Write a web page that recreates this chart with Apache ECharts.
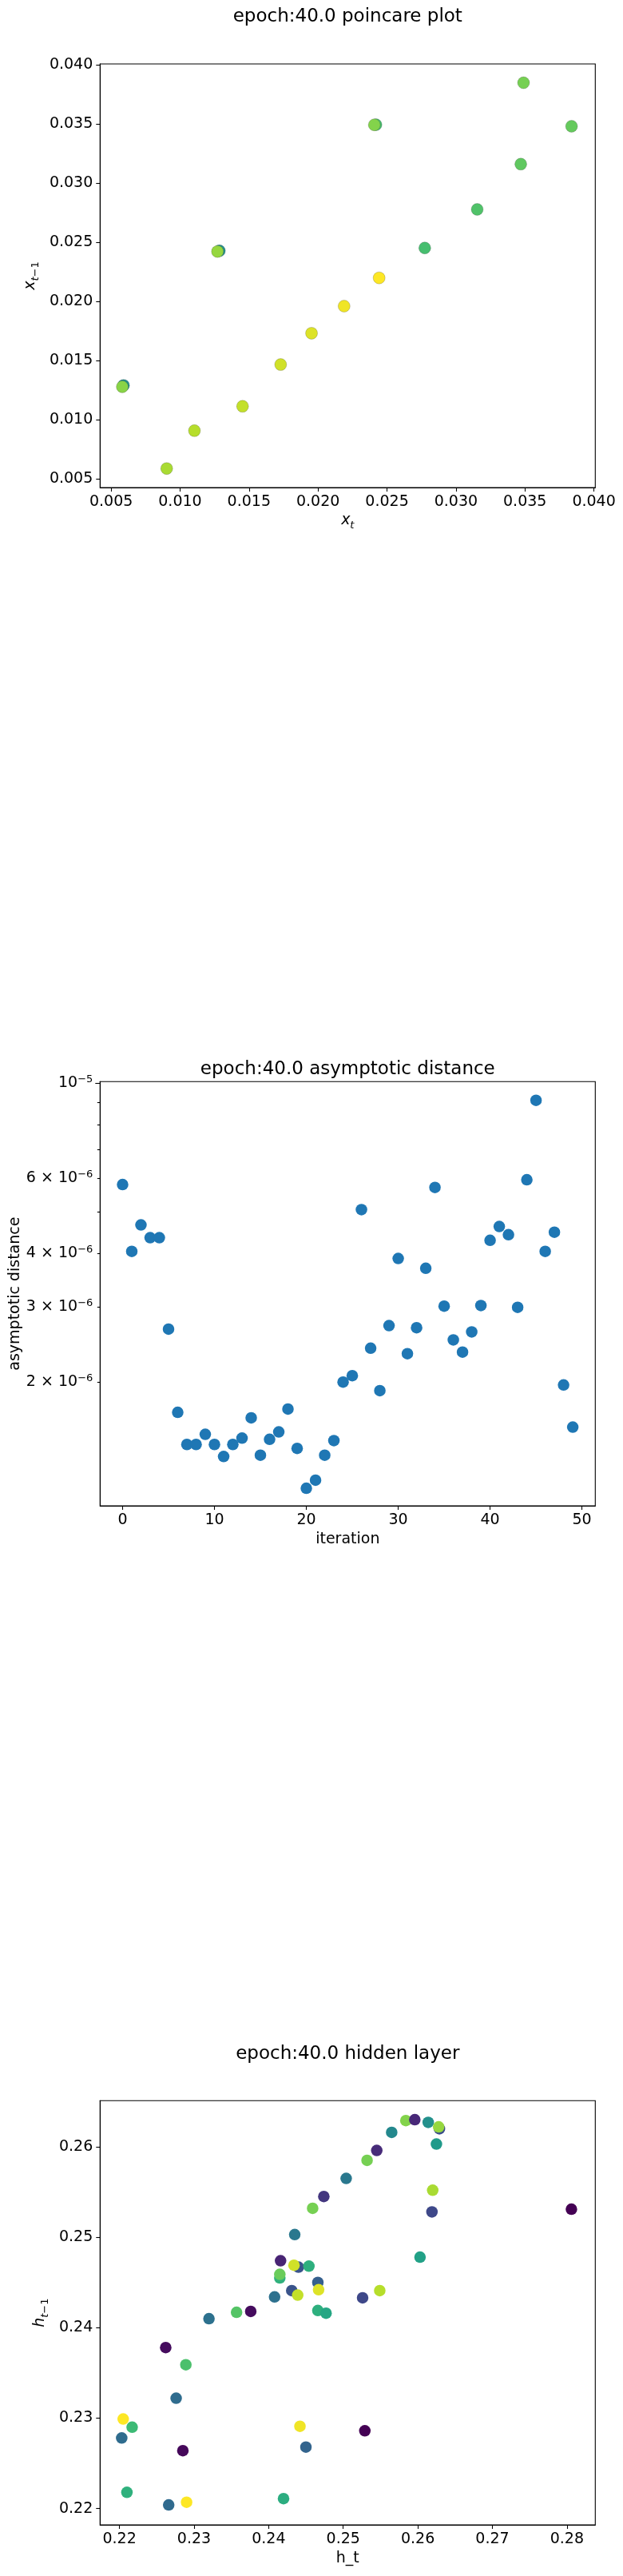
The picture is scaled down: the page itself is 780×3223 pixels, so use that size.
<!DOCTYPE html>
<html>
<head>
<meta charset="utf-8">
<title>epoch 40 plots</title>
<script src="https://cdn.jsdelivr.net/npm/echarts@6/dist/echarts.min.js"></script>
<style>
  html, body { margin: 0; padding: 0; background: #fff; }
  #main { width: 780px; height: 3223px; }
</style>
</head>
<body>
<div id="main"></div>
<script>
// --- poincare plot: x_t against x_{t-1}, colour = viridis position (0..1)
var poincareX = [0.00590, 0.01285, 0.02420, 0.00581, 0.00903, 0.01104, 0.01453, 0.01729, 0.01953, 0.02189, 0.02443, 0.02774, 0.03154, 0.03470, 0.03490, 0.03838, 0.02408, 0.01271];
var poincareY = [0.01290, 0.02428, 0.03494, 0.01278, 0.00587, 0.00907, 0.01113, 0.01466, 0.01731, 0.01960, 0.02199, 0.02452, 0.02778, 0.03161, 0.03849, 0.03481, 0.03493, 0.02422];
var poincareC = [0.50, 0.50, 0.70, 0.82, 0.87, 0.89, 0.91, 0.93, 0.95, 0.98, 1.00, 0.70, 0.72, 0.75, 0.79, 0.76, 0.81, 0.84];

// --- asymptotic distance per iteration
var iterations = [0, 1, 2, 3, 4, 5, 6, 7, 8, 9, 10, 11, 12, 13, 14, 15, 16, 17, 18, 19, 20, 21, 22, 23, 24,
                  25, 26, 27, 28, 29, 30, 31, 32, 33, 34, 35, 36, 37, 38, 39, 40, 41, 42, 43, 44, 45, 46, 47, 48, 49];
var asymDist = [5.79e-6, 4.04e-6, 4.66e-6, 4.35e-6, 4.35e-6, 2.66e-6, 1.70e-6, 1.43e-6, 1.43e-6, 1.51e-6,
                1.43e-6, 1.34e-6, 1.43e-6, 1.48e-6, 1.65e-6, 1.35e-6, 1.47e-6, 1.53e-6, 1.73e-6, 1.40e-6,
                1.13e-6, 1.18e-6, 1.35e-6, 1.46e-6, 2.00e-6, 2.07e-6, 5.06e-6, 2.40e-6, 1.91e-6, 2.71e-6,
                3.89e-6, 2.33e-6, 2.68e-6, 3.69e-6, 5.70e-6, 3.01e-6, 2.51e-6, 2.35e-6, 2.62e-6, 3.02e-6,
                4.29e-6, 4.62e-6, 4.42e-6, 2.99e-6, 5.94e-6, 9.11e-6, 4.04e-6, 4.48e-6, 1.97e-6, 1.57e-6];

// --- hidden layer: h_t against h_{t-1}, colour = viridis position (0..1)
var hiddenX = [0.2584, 0.2596, 0.2614, 0.2629, 0.2628, 0.2565, 0.2625, 0.2545, 0.2532, 0.2504,
               0.2620, 0.2474, 0.2459, 0.2619, 0.2806, 0.2435, 0.2603, 0.2416, 0.2440, 0.2434,
               0.2454, 0.2415, 0.2415, 0.2466, 0.2431, 0.2467, 0.2439, 0.2408, 0.2526, 0.2549,
               0.2357, 0.2376, 0.2320, 0.2466, 0.2477, 0.2262, 0.2289, 0.2276, 0.2205, 0.2217,
               0.2442, 0.2529, 0.2203, 0.2285, 0.2450, 0.2210, 0.2266, 0.2290, 0.2420];
var hiddenY = [0.2629, 0.2630, 0.2627, 0.2620, 0.2622, 0.2616, 0.2603, 0.2596, 0.2585, 0.2565,
               0.2552, 0.2545, 0.2532, 0.2528, 0.2531, 0.2503, 0.2478, 0.2474, 0.2467, 0.2469,
               0.2468, 0.2455, 0.2459, 0.2450, 0.2441, 0.2442, 0.2436, 0.2434, 0.2433, 0.2441,
               0.2417, 0.2418, 0.2410, 0.2419, 0.2416, 0.2378, 0.2359, 0.2322, 0.2299, 0.2290,
               0.2291, 0.2286, 0.2278, 0.2264, 0.2268, 0.2218, 0.2204, 0.2207, 0.2211];
var hiddenC = [0.81, 0.11, 0.50, 0.24, 0.84, 0.47, 0.54, 0.12, 0.79, 0.40,
               0.87, 0.16, 0.79, 0.22, 0.00, 0.40, 0.57, 0.10, 0.26, 0.93,
               0.63, 0.64, 0.77, 0.30, 0.26, 0.95, 0.91, 0.37, 0.22, 0.89,
               0.73, 0.03, 0.37, 0.63, 0.59, 0.03, 0.71, 0.35, 1.00, 0.68,
               0.98, 0.00, 0.35, 0.02, 0.32, 0.64, 0.34, 1.00, 0.62];

// --- tick values
var xTicks1 = [0.005, 0.010, 0.015, 0.020, 0.025, 0.030, 0.035, 0.040];
var yTicks1 = [0.005, 0.010, 0.015, 0.020, 0.025, 0.030, 0.035, 0.040];
var xTicks2 = [0, 10, 20, 30, 40, 50];
var yMinor2 = [2e-6, 3e-6, 4e-6, 5e-6, 6e-6, 7e-6, 8e-6, 9e-6];
var yLabels2 = [2e-6, 3e-6, 4e-6, 6e-6];
var yMajor2 = [1e-5];
var xTicks3 = [0.22, 0.23, 0.24, 0.25, 0.26, 0.27, 0.28];
var yTicks3 = [0.22, 0.23, 0.24, 0.25, 0.26];

var viridis = ['#440154', '#482878', '#3e4989', '#31688e', '#26828e',
               '#1f9e89', '#35b779', '#6ece58', '#b5de2b', '#fde725'];

var font = 'DejaVu Sans';
var ink = '#000';
var logMin = 1.028e-6, logMax = 1.0073e-5;

var subRich = {
    v: {fontSize: 19, fontStyle: 'italic', fontFamily: font, color: ink, lineHeight: 26},
    s: {fontSize: 13, fontStyle: 'italic', fontFamily: font, color: ink, verticalAlign: 'bottom', lineHeight: 13},
    u: {fontSize: 13, fontFamily: font, color: ink, verticalAlign: 'bottom', lineHeight: 13}
};
var powRich = {
    b: {fontSize: 19, fontFamily: font, color: ink, lineHeight: 22},
    p: {fontSize: 13, fontFamily: font, color: ink, verticalAlign: 'top', lineHeight: 13}
};

function lg(v) { return Math.log(v) / Math.LN10; }

function powLabel(val) {
    var e = Math.floor(val + 1e-9);
    var m = Math.round(Math.pow(10, val - e));
    var sup = '{p|\u2212' + Math.abs(e) + '}';
    if (m === 1) return '{b|10}' + sup;
    return '{b|' + m + ' \u00d7 10}' + sup;
}

function axis(grid, pos, min, max, ticks, fmt, name, gap) {
    return {
        type: 'value', gridIndex: grid, position: pos, min: min, max: max,
        name: name, nameLocation: 'middle', nameGap: gap,
        nameTextStyle: {fontSize: 19, fontFamily: font, color: ink, rich: subRich},
        axisLine: {show: true, onZero: false, lineStyle: {color: ink, width: 1.1}},
        axisTick: {show: true, length: 5, customValues: ticks, lineStyle: {color: ink, width: 1.1}},
        axisLabel: {show: true, customValues: ticks, formatter: fmt, margin: 9,
                    fontSize: 19, fontFamily: font, color: ink},
        splitLine: {show: false}
    };
}
function fixed(d) { return function (v) { return v.toFixed(d); }; }

function logOverlay(ticks, labels, len) {
    return {
        type: 'value', gridIndex: 1, position: 'left', min: lg(logMin), max: lg(logMax),
        axisLine: {show: false, onZero: false},
        axisTick: {show: true, length: len, customValues: ticks.map(lg), lineStyle: {color: ink, width: 1.1}},
        axisLabel: {show: true, customValues: labels.map(lg), formatter: powLabel, margin: 9,
                    fontSize: 19, fontFamily: font, color: ink, rich: powRich},
        splitLine: {show: false}
    };
}

var titleStyle = {fontSize: 23, fontWeight: 'normal', fontFamily: font, color: ink};
var frame = {show: true, borderColor: ink, borderWidth: 1.1, backgroundColor: 'transparent'};

var myChart = echarts.init(document.getElementById('main'), null, {renderer: 'canvas'});
var option = {
    animation: false,
    backgroundColor: '#fff',
    title: [
        {text: 'epoch:40.0 poincare plot', left: 435.3, top: 9.2, textAlign: 'center', padding: 0, textStyle: titleStyle},
        {text: 'epoch:40.0 asymptotic distance', left: 435.3, top: 1326.8, textAlign: 'center', padding: 0, textStyle: titleStyle},
        {text: 'epoch:40.0 hidden layer', left: 435.3, top: 2558.5, textAlign: 'center', padding: 0, textStyle: titleStyle}
    ],
    grid: [
        Object.assign({left: 125.3, top: 80, width: 620, height: 530}, frame),
        Object.assign({left: 125.3, top: 1353.3, width: 620, height: 530.7}, frame),
        Object.assign({left: 125.3, top: 2628.3, width: 620, height: 530.7}, frame)
    ],
    xAxis: [
        axis(0, 'bottom', 0.0042, 0.0401, xTicks1, fixed(3), '{v|x}{s|t}', 28),
        axis(1, 'bottom', -2.45, 51.45, xTicks2, fixed(0), 'iteration', 33),
        axis(2, 'bottom', 0.2174, 0.2838, xTicks3, fixed(2), 'h_t', 33)
    ],
    yAxis: [
        axis(0, 'left', 0.00426, 0.04008, yTicks1, fixed(3), '{v|x}{s|t}{u|\u22121}', 69),
        {
            type: 'log', logBase: 10, gridIndex: 1, position: 'left', min: logMin, max: logMax,
            name: 'asymptotic distance', nameLocation: 'middle', nameGap: 97,
            nameTextStyle: {fontSize: 19, fontFamily: font, color: ink},
            axisLine: {show: true, onZero: false, lineStyle: {color: ink, width: 1.1}},
            axisTick: {show: false}, axisLabel: {show: false}, splitLine: {show: false}
        },
        logOverlay(yMinor2, yLabels2, 3.5),
        logOverlay(yMajor2, yMajor2, 6),
        axis(2, 'left', 0.2182, 0.2651, yTicks3, fixed(2), '{v|h}{s|t}{u|\u22121}', 59)
    ],
    visualMap: [
        {type: 'continuous', show: false, seriesIndex: 0, dimension: 2, min: 0, max: 1, inRange: {color: viridis}},
        {type: 'continuous', show: false, seriesIndex: 2, dimension: 2, min: 0, max: 1, inRange: {color: viridis}}
    ],
    series: [
        {
            type: 'scatter', xAxisIndex: 0, yAxisIndex: 0, symbolSize: 15,
            itemStyle: {opacity: 1, borderColor: 'rgba(50,50,50,0.45)', borderWidth: 0.5},
            data: poincareX.map(function (x, i) { return [x, poincareY[i], poincareC[i]]; })
        },
        {
            type: 'scatter', xAxisIndex: 1, yAxisIndex: 1, symbolSize: 14.5,
            itemStyle: {color: '#1f77b4', opacity: 1},
            data: iterations.map(function (it, i) { return [it, asymDist[i]]; })
        },
        {
            type: 'scatter', xAxisIndex: 2, yAxisIndex: 4, symbolSize: 14.5,
            itemStyle: {opacity: 1},
            data: hiddenX.map(function (x, i) { return [x, hiddenY[i], hiddenC[i]]; })
        }
    ]
};
myChart.setOption(option);
</script>
</body>
</html>
